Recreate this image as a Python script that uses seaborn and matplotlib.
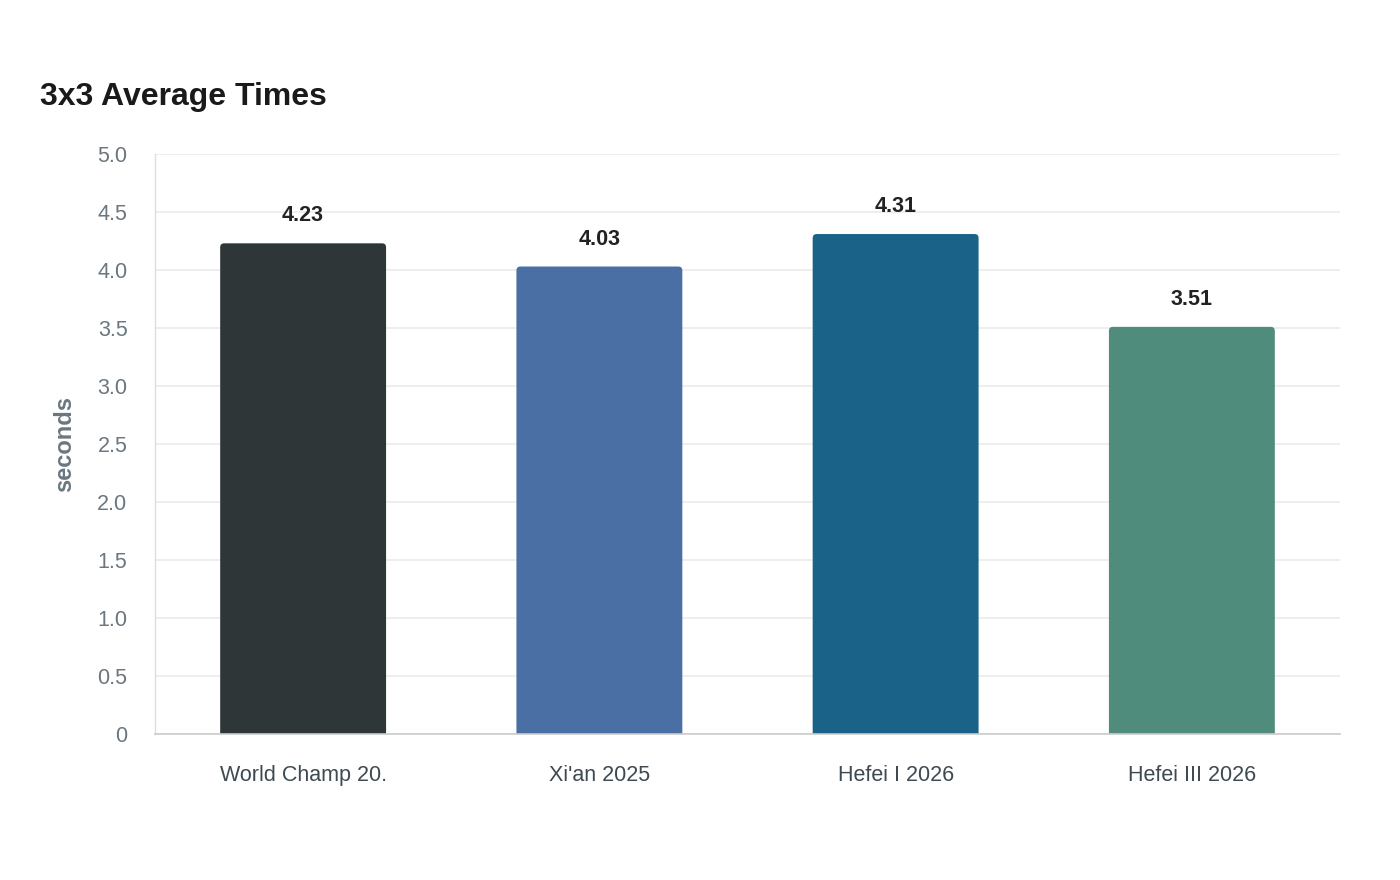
import matplotlib
matplotlib.use("Agg")
import matplotlib.pyplot as plt
import seaborn as sns
import pandas as pd
from matplotlib.patches import FancyBboxPatch

categories = ["World Champ 20.", "Xi'an 2025", "Hefei I 2026", "Hefei III 2026"]
values = [4.23, 4.03, 4.31, 3.51]
colors = ["#2e3638", "#4a6fa5", "#1a6287", "#4f8c7b"]
yticks = [0, 0.5, 1.0, 1.5, 2.0, 2.5, 3.0, 3.5, 4.0, 4.5, 5.0]
ytick_labels = ["0", "0.5", "1.0", "1.5", "2.0", "2.5", "3.0", "3.5", "4.0", "4.5", "5.0"]

sns.set_style("white")
plt.rcParams["font.family"] = ["Liberation Sans", "DejaVu Sans"]

df = pd.DataFrame({"event": categories, "time": values})

fig = plt.figure(figsize=(14, 8.8), dpi=100)
ax = fig.add_axes([155/1400, 1-734/880, 1185/1400, 580/880])

sns.barplot(data=df, x="event", y="time", hue="event", palette=colors,
            width=0.56, legend=False, ax=ax, saturation=1)

ax.set_ylim(0, 5.0)
ax.set_xlim(-0.5, len(categories) - 0.5)

# rounded top corners
px_x = 1185 / len(categories)
px_y = 580 / 5.0
r_x = 4 / px_x
aspect = (1 / px_y) / (1 / px_x)
for p in list(ax.patches):
    x0, w, h = p.get_x(), p.get_width(), p.get_height()
    fc = p.get_facecolor()
    p.set_visible(False)
    ext = 0.1
    fb = FancyBboxPatch((x0, -ext), w, h + ext,
                        boxstyle=f"round,pad=0,rounding_size={r_x}",
                        mutation_aspect=aspect, facecolor=fc, edgecolor="none",
                        clip_on=True, zorder=2)
    ax.add_patch(fb)
    ax.text(x0 + w / 2, h + 17 / px_y, f"{h:.2f}", ha="center", va="bottom",
            fontsize=15.5, fontweight="bold", color="#222222")

ax.set_yticks(yticks)
ax.set_yticklabels(ytick_labels)
ax.yaxis.grid(True, color="#ebebeb", linewidth=1.2, zorder=0)
ax.set_axisbelow(True)
ax.tick_params(axis="y", length=10.8, color="#ebebeb", width=1.2, labelsize=15.5,
               labelcolor="#6b7780", pad=9)
ax.tick_params(axis="x", length=0, labelsize=15.5, labelcolor="#3d4a52", pad=22)

for s in ["top", "right"]:
    ax.spines[s].set_visible(False)
ax.spines["left"].set_color("#dddddd")
ax.spines["left"].set_linewidth(1)
ax.spines["bottom"].set_color("#cccccc")
ax.spines["bottom"].set_linewidth(1.2)

ax.set_xlabel("")
ax.set_ylabel("seconds", fontsize=17, fontweight="bold", color="#6b7780", labelpad=15.5)

fig.text(40/1400, 1 - 97/880, "3x3 Average Times", fontsize=23, fontweight="bold",
         color="#1a1a1a", ha="left", va="center")

fig.savefig("out.png", dpi=100, facecolor="white")
